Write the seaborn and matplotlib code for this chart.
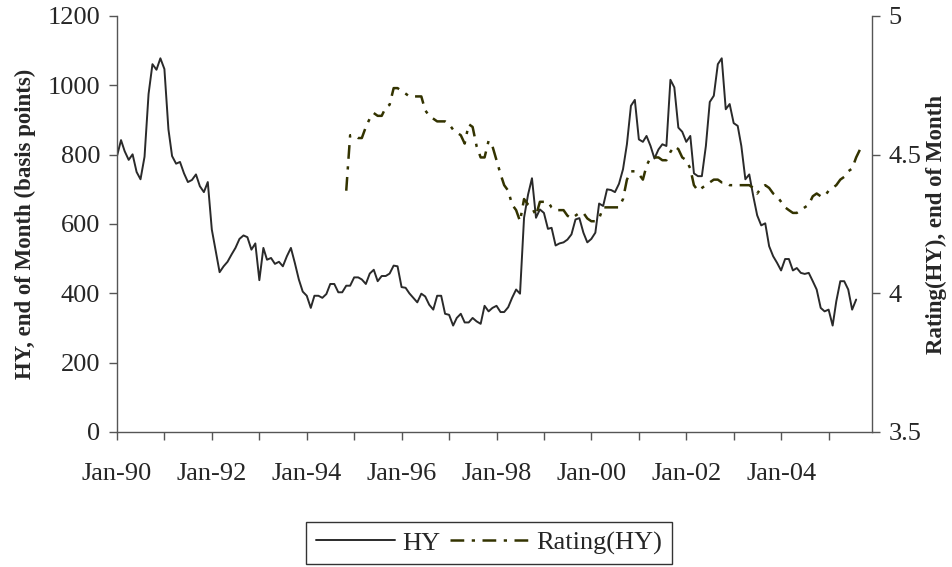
import numpy as np
import pandas as pd
import matplotlib
matplotlib.use("Agg")
import matplotlib.pyplot as plt
import matplotlib.dates as mdates
import seaborn as sns

# HY spread, end of month, Jan-90 .. Aug-05 (basis points)
hy = [796, 842, 810, 785, 801, 750, 729, 794, 975, 1061, 1045, 1078,   # 1990
      1047, 873, 796, 774, 779, 746, 721, 727, 743, 709, 692, 721,     # 1991
      584, 520, 461, 478, 491, 512, 531, 557, 567, 562, 526, 544,      # 1992
      438, 531, 497, 502, 485, 491, 478, 507, 531, 488, 440, 405,      # 1993
      393, 358, 393, 393, 387, 398, 427, 427, 403, 403, 422, 422,      # 1994
      446, 446, 440, 427, 457, 468, 435, 450, 450, 457, 480, 478,      # 1995
      418, 416, 400, 387, 374, 399, 391, 367, 353, 393, 393, 341,      # 1996
      338, 307, 329, 341, 316, 316, 329, 319, 312, 364, 348, 358,      # 1997
      364, 346, 346, 360, 387, 411, 399, 618, 685, 732, 618, 642,      # 1998
      632, 586, 589, 538, 544, 547, 555, 570, 613, 617, 575, 547,      # 1999
      557, 575, 659, 652, 700, 698, 692, 716, 758, 830, 941, 958,      # 2000
      844, 837, 854, 825, 789, 815, 830, 825, 1016, 994, 878, 866,     # 2001
      837, 854, 746, 738, 738, 825, 952, 970, 1061, 1078, 931, 946,    # 2002
      891, 883, 825, 729, 743, 680, 625, 596, 602, 536, 507, 488,      # 2003
      466, 499, 499, 466, 473, 459, 456, 459, 435, 411, 358, 348,      # 2004
      353, 307, 377, 435, 435, 411, 353, 382]                          # 2005
hy_start = "1990-01-01"

# average rating of the HY index, Nov-94 .. Sep-05
rating = [4.37, 4.57,                                                          # 1994
          4.57, 4.56, 4.56, 4.60, 4.63, 4.65, 4.64, 4.64, 4.67, 4.68, 4.74, 4.74,  # 1995
          4.73, 4.72, 4.71, 4.71, 4.71, 4.71, 4.66, 4.64, 4.63, 4.62, 4.62, 4.62,  # 1996
          4.61, 4.59, 4.58, 4.57, 4.54, 4.61, 4.60, 4.53, 4.49, 4.49, 4.55, 4.53,  # 1997
          4.48, 4.43, 4.39, 4.37, 4.32, 4.30, 4.26, 4.34, 4.32, 4.31, 4.28, 4.33,  # 1998
          4.33, 4.33, 4.31, 4.30, 4.30, 4.30, 4.28, 4.27, 4.28, 4.29, 4.29, 4.27,  # 1999
          4.26, 4.26, 4.27, 4.31, 4.31, 4.31, 4.31, 4.31, 4.34, 4.41, 4.44, 4.44,  # 2000
          4.43, 4.41, 4.46, 4.49, 4.49, 4.49, 4.48, 4.48, 4.51, 4.53, 4.52, 4.49,  # 2001
          4.48, 4.45, 4.39, 4.37, 4.38, 4.39, 4.40, 4.41, 4.41, 4.40, 4.40, 4.39,  # 2002
          4.39, 4.39, 4.39, 4.39, 4.39, 4.38, 4.36, 4.38, 4.39, 4.38, 4.36, 4.35,  # 2003
          4.33, 4.31, 4.30, 4.29, 4.29, 4.30, 4.31, 4.32, 4.35, 4.36, 4.35, 4.35,  # 2004
          4.37, 4.38, 4.39, 4.41, 4.42, 4.44, 4.45, 4.49, 4.52]                    # 2005
rating_start = "1994-11-01"

left_ticks = [0, 200, 400, 600, 800, 1000, 1200]
right_ticks = [3.5, 4, 4.5, 5]
right_labels = ["3.5", "4", "4.5", "5"]

df_hy = pd.DataFrame({"date": pd.date_range(hy_start, periods=len(hy), freq="MS"),
                      "HY": hy})
df_rt = pd.DataFrame({"date": pd.date_range(rating_start, periods=len(rating), freq="MS"),
                      "Rating(HY)": rating})

sns.set_style("ticks")
plt.rcParams['font.family'] = ['Liberation Serif', 'DejaVu Serif']

W, H = 953, 567
fig = plt.figure(figsize=(W / 100, H / 100), dpi=100)
ax = fig.add_axes([117 / W, 1 - 432 / H, (872 - 117) / W, (432 - 16) / H])
ax2 = ax.twinx()

sns.lineplot(data=df_hy, x="date", y="HY", ax=ax, color="#2a2a2a",
             linewidth=1.4, label="HY", legend=False)
sns.lineplot(data=df_rt, x="date", y="Rating(HY)", ax=ax2, color="#333300",
             linewidth=1.8, linestyle=(0, (5.5, 3, 1.3, 3)),
             label="Rating(HY)", legend=False)

ax.set_xlim(pd.Timestamp("1990-01-01"), pd.Timestamp("2005-12-01"))
ax.set_ylim(0, 1200)
ax2.set_ylim(3.5, 5)
ax.set_yticks(left_ticks)
ax2.set_yticks(right_ticks)
ax2.set_yticklabels(right_labels)

ax.xaxis.set_major_locator(mdates.YearLocator(2))
ax.xaxis.set_minor_locator(mdates.YearLocator(1))
ax.xaxis.set_major_formatter(mdates.DateFormatter("%b-%y"))

ax.set_xlabel("")
ax.set_ylabel("HY, end of Month (basis points)", fontsize=16.5,
              fontweight="bold", labelpad=8)
ax2.set_ylabel("Rating(HY), end of Month", fontsize=16.5,
               fontweight="bold", labelpad=3)

for a in (ax, ax2):
    a.tick_params(axis="both", which="both", direction="out", length=6,
                  width=1, color="#555555", labelsize=19, pad=6)
    for s in a.spines.values():
        s.set_color("#555555")
        s.set_linewidth(1)
    a.spines["top"].set_visible(False)
    a.grid(False)
ax.tick_params(axis="x", pad=16)
ax.spines["right"].set_visible(False)
ax2.spines["left"].set_visible(False)
ax2.spines["bottom"].set_visible(False)

h1, l1 = ax.get_legend_handles_labels()
h2, l2 = ax2.get_legend_handles_labels()
leg = fig.legend(h1 + h2, l1 + l2, loc="center", bbox_to_anchor=(489 / W, 1 - 543 / H),
                 ncol=2, fontsize=19, frameon=True, fancybox=False, shadow=False,
                 handlelength=3.0, handletextpad=0.27, columnspacing=0.38,
                 borderpad=0.35, borderaxespad=0, edgecolor="black")
leg.get_frame().set_linewidth(1.0)

fig.savefig("out.png", dpi=100, facecolor="white")
